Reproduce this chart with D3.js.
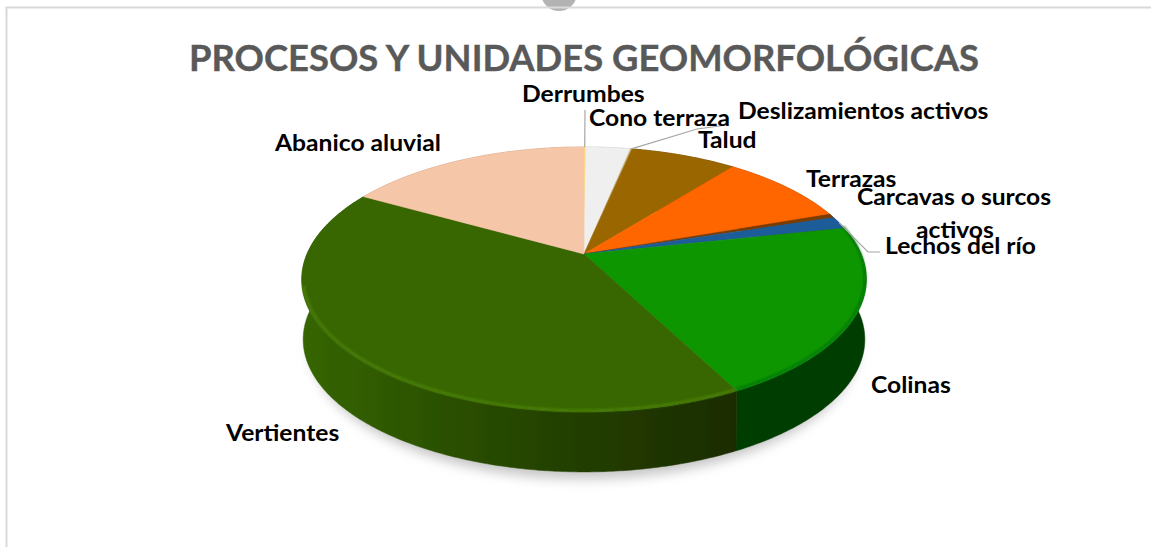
<!DOCTYPE html>
<html>
<head>
<meta charset="utf-8">
<script src="https://cdn.jsdelivr.net/npm/d3@7"></script>
<style>
  html, body { margin: 0; padding: 0; background: #fff; overflow: hidden; }
  text { font-family: Lato, "Open Sans", sans-serif; font-weight: 700; }
</style>
</head>
<body>
<svg id="chart" width="1151" height="547"></svg>
<script>
var categories = ["Derrumbes", "Cono terraza", "Deslizamientos activos", "Talud", "Terrazas",
                  "Carcavas o surcos activos", "Lechos del río", "Colinas", "Vertientes", "Abanico aluvial"];
var values = [0.1, 3.1, 0.1, 7.3, 9.0, 0.5, 1.5, 20.8, 40.7, 16.8];
var colors = ["#ffd966", "#efefef", "#c9b27a", "#996600", "#ff6600", "#7a3c00", "#1f5c99", "#0a9600", "#386600", "#f6c6a8"];
var wallColors = ["#a58a40", "#aaaaaa", "#8a7a50", "#5c3d00", "#993d00", "#4a2400", "#123760", "#003c00", "url(#wallVert)", "#b08a70"];

// label placement, left end and baseline of first line
var labelPos = {
  "Derrumbes": [522, 102],
  "Cono terraza": [589, 126],
  "Deslizamientos activos": [738, 119],
  "Talud": [698, 148],
  "Terrazas": [806, 187],
  "Carcavas o surcos activos": [857, 205],
  "Lechos del río": [885, 254],
  "Colinas": [871, 393],
  "Vertientes": [226, 441],
  "Abanico aluvial": [275, 151]
};
var labelLines = { "Carcavas o surcos activos": ["Carcavas o surcos", "activos"] };
var leaders = {
  "Derrumbes": [[585, 110]],
  "Deslizamientos activos": [[697, 129], [727, 125]],
  "Lechos del río": [[868, 252], [880, 252]]
};

var svg = d3.select("#chart");
var defs = svg.append("defs");

defs.append("filter").attr("id", "soft").attr("x", "-20%").attr("y", "-20%").attr("width", "140%").attr("height", "140%")
  .append("feGaussianBlur").attr("stdDeviation", 6);
defs.append("filter").attr("id", "bevel").attr("x", "-5%").attr("y", "-5%").attr("width", "110%").attr("height", "110%")
  .append("feGaussianBlur").attr("stdDeviation", 1.2);
defs.append("filter").attr("id", "scan").attr("x", "-2%").attr("y", "-2%").attr("width", "104%").attr("height", "104%")
  .append("feGaussianBlur").attr("stdDeviation", 0.5);

var wallGrad = defs.append("linearGradient").attr("id", "wallVert").attr("gradientUnits", "userSpaceOnUse")
  .attr("x1", 301).attr("x2", 737).attr("y1", 0).attr("y2", 0);
wallGrad.selectAll("stop")
  .data([[0, "#356600"], [0.3, "#2c5200"], [0.6, "#234000"], [1, "#1c2c00"]])
  .enter().append("stop")
  .attr("offset", function(d) { return d[0]; })
  .attr("stop-color", function(d) { return d[1]; });

// chart frame and the bit of circle poking in above it
svg.append("circle").attr("cx", 559).attr("cy", -7).attr("r", 18).attr("fill", "#b3b3b3");
svg.append("path").attr("d", "M6.5,547V7.5H1151").attr("fill", "none").attr("stroke", "#d9d9d9").attr("stroke-width", 2);

svg.append("text").attr("x", 584).attr("y", 71).attr("text-anchor", "middle")
  .attr("font-size", 37).attr("fill", "#595959").attr("stroke", "#595959").attr("stroke-width", 0.4)
  .attr("textLength", 790).attr("lengthAdjust", "spacingAndGlyphs")
  .text("PROCESOS Y UNIDADES GEOMORFOLÓGICAS");

// perspective view of the unit circle: the pie centre lands above the middle of the ellipse
var cx = 584, apexY = 254, persp = -0.192, radX = 277, radY = 127.6, depth = 60;
var project = function project(angle, h, scale) {
  var ux = Math.sin(angle), uy = -Math.cos(angle);
  var w = 1 + persp * uy;
  return [cx + scale * radX * ux / w, apexY + h + radY * uy / w];
};

var arcPoints = function arcPoints(a0, a1, h, scale) {
  var n = Math.max(2, Math.ceil((a1 - a0) / 0.01));
  return d3.range(n + 1).map(function(i) {
    return project(a0 + (a1 - a0) * i / n, h, scale);
  });
};

var line = d3.line();
var arcs = d3.pie().sort(null)(values);
var pieGroup = svg.append("g").attr("filter", "url(#scan)");

// shadow under the pie
svg.insert("path", "g")
  .attr("d", line(arcPoints(0, 2 * Math.PI, depth + 7, 0.97)) + "Z")
  .attr("fill", "#8c8c8c").attr("opacity", 0.5).attr("filter", "url(#soft)");

// walls first, the top faces hide the far half
pieGroup.append("g").selectAll("path").data(arcs).enter().append("path")
  .attr("d", function(d) {
    var top = arcPoints(d.startAngle, d.endAngle, 0, 1);
    var bottom = arcPoints(d.startAngle, d.endAngle, depth, 0.995).reverse();
    return line(top.concat(bottom)) + "Z";
  })
  .attr("fill", function(d, i) { return wallColors[i]; })
  .attr("stroke", function(d, i) { return wallColors[i]; })
  .attr("stroke-width", 0.5);

pieGroup.append("g").selectAll("path").data(arcs).enter().append("path")
  .attr("d", function(d) {
    return line([[cx, apexY]].concat(arcPoints(d.startAngle, d.endAngle, 0, 1))) + "Z";
  })
  .attr("fill", function(d, i) { return colors[i]; })
  .attr("stroke", function(d, i) { return colors[i]; })
  .attr("stroke-width", 0.5);

// light bevel along the front rim only
var frontStart = Math.PI * 0.4, frontEnd = Math.PI * 1.42;
pieGroup.append("g").selectAll("path").data(arcs.filter(function(d) { return d.data > 20; })).enter().append("path")
  .attr("d", function(d) {
    return line(arcPoints(Math.max(d.startAngle, frontStart), Math.min(d.endAngle, frontEnd), -1.5, 0.995));
  })
  .attr("fill", "none")
  .attr("stroke", function(d) { return d.data > 30 ? "#4b8308" : "#087408"; })
  .attr("stroke-width", 2.2).attr("filter", "url(#bevel)");

// leader lines from the rim out to the label
svg.append("g").selectAll("path").data(arcs.filter(function(d) { return leaders[categories[d.index]]; })).enter().append("path")
  .attr("d", function(d) {
    var mid = (d.startAngle + d.endAngle) / 2;
    return line([project(mid, 0, 1)].concat(leaders[categories[d.index]]));
  })
  .attr("fill", "none").attr("stroke", "#a6a6a6").attr("stroke-width", 1.2);

var labels = svg.append("g").selectAll("text").data(categories).enter().append("text")
  .attr("font-size", 22).attr("fill", "#000");

// Lato runs narrower at this height than the original, so stretch each line a little
labels.each(function(d) {
  var el = d3.select(this);
  (labelLines[d] || [d]).forEach(function(t, i) {
    var span = el.append("tspan")
      .attr("x", labelPos[d][0] + (i ? 59 : 0))
      .attr("y", labelPos[d][1] + (i ? 33 : 0))
      .text(t);
    span.attr("textLength", span.node().getComputedTextLength() * 1.12)
      .attr("lengthAdjust", "spacingAndGlyphs");
  });
});
</script>
</body>
</html>
